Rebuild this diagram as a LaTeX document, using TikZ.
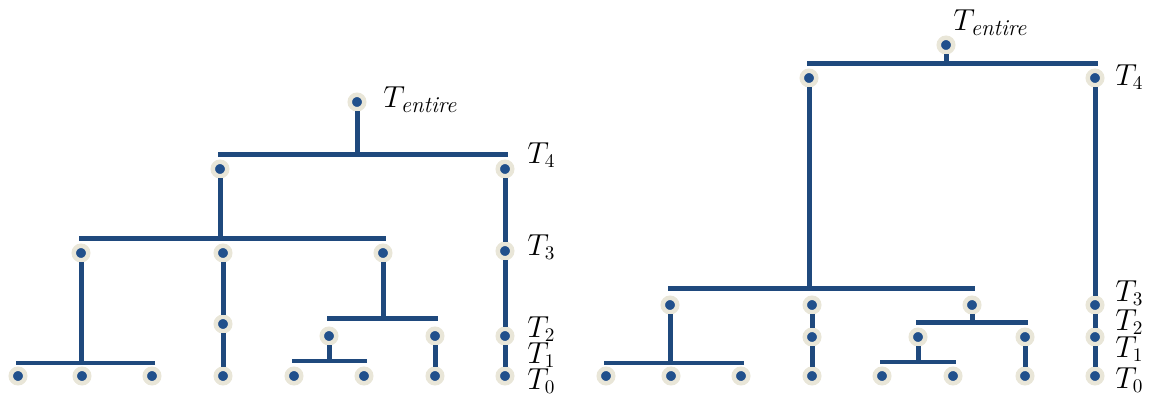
\documentclass[tikz,border=0pt]{standalone}
\usepackage{tikz}
\usetikzlibrary{calc,positioning}
\definecolor{treeblue}{HTML}{1F497D}
\definecolor{dotblue}{HTML}{21508C}
\definecolor{halo}{HTML}{E9E6D8}
\newcommand{\entiretext}{\mbox{\fontsize{13}{14}\selectfont\itshape entire}}
\tikzset{
  knot/.style={circle,fill=dotblue,draw=halo,line width=0.09cm,minimum size=0.29cm,inner sep=0pt},
  branch/.style={treeblue,line width=0.1cm},
  bar/.style={branch,line cap=rect},
  level/.style={anchor=west,inner sep=0pt,font=\fontsize{16}{19}\selectfont}
}

\begin{document}
\begin{tikzpicture}[x=0.02cm,y=-0.02cm]
\useasboundingbox (0,0) rectangle (1149,398);

% left tree
\node[knot] (L-r) at (357,102) {};
\node[knot] (L-41) at (220,169) {};
\node[knot] (L-42) at (505,169) {};
\node[knot] (L-31) at (81,253) {};
\node[knot] (L-32) at (223,253) {};
\node[knot] (L-33) at (383,253) {};
\node[knot] (L-34) at (505,251) {};
\node[knot] (L-22) at (223,324) {};
\node[knot] (L-23) at (329,336) {};
\node[knot] (L-24) at (435,336) {};
\node[knot] (L-25) at (505,336) {};
\node[knot] (L-01) at (18,376) {};
\node[knot] (L-02) at (82,376) {};
\node[knot] (L-03) at (152,376) {};
\node[knot] (L-04) at (223,376) {};
\node[knot] (L-05) at (294,376) {};
\node[knot] (L-06) at (364,376) {};
\node[knot] (L-07) at (435,376) {};
\node[knot] (L-08) at (505,376) {};
\coordinate (L-b4) at (0,155);
\coordinate (L-b3) at (0,239);
\coordinate (L-b2) at (0,319);
\coordinate (L-b1) at (0,363);
\coordinate (L-b0) at (0,361);
\draw[branch] (L-r) -- (L-r |- L-b4);
\draw[bar] (L-41 |- L-b4) -- (L-42 |- L-b4);
\draw[branch] (L-41) -- (L-41 |- L-b3);
\draw[bar] (L-31 |- L-b3) -- (L-33 |- L-b3);
\draw[branch] (L-42) -- (L-34);
\draw[branch] (L-34) -- (L-25);
\draw[branch] (L-25) -- (L-08);
\draw[branch] (L-31) -- (L-31 |- L-b1);
\draw[bar] (L-01 |- L-b1) -- (L-03 |- L-b1);
\draw[branch] (L-32) -- (L-22);
\draw[branch] (L-22) -- (L-04);
\draw[branch] (L-33) -- (L-33 |- L-b2);
\draw[bar] (L-23 |- L-b2) -- (L-24 |- L-b2);
\draw[branch] (L-23) -- (L-23 |- L-b0);
\draw[bar] (L-05 |- L-b0) -- (L-06 |- L-b0);
\draw[branch] (L-24) -- (L-07);
\node[level] (L-te) at (383,100) {$T_{\entiretext}$};
\node[level] (L-t4) at (527,155) {$T_4$};
\node[level] (L-t3) at (527,247) {$T_3$};
\node[level] (L-t2) at (527,329) {$T_2$};
\node[level] (L-t1) at (527,355) {$T_1$};
\node[level] (L-t0) at (527,381) {$T_0$};

% right tree
\node[knot] (R-r) at (946,45) {};
\node[knot] (R-41) at (809,78) {};
\node[knot] (R-42) at (1095,78) {};
\node[knot] (R-31) at (670,305) {};
\node[knot] (R-32) at (812,305) {};
\node[knot] (R-33) at (972,305) {};
\node[knot] (R-34) at (1095,305) {};
\node[knot] (R-22) at (812,337) {};
\node[knot] (R-23) at (918,337) {};
\node[knot] (R-24) at (1025,337) {};
\node[knot] (R-25) at (1095,337) {};
\node[knot] (R-01) at (606,376) {};
\node[knot] (R-02) at (671,376) {};
\node[knot] (R-03) at (741,376) {};
\node[knot] (R-04) at (812,376) {};
\node[knot] (R-05) at (882,376) {};
\node[knot] (R-06) at (953,376) {};
\node[knot] (R-07) at (1025,376) {};
\node[knot] (R-08) at (1095,376) {};
\coordinate (R-b4) at (0,64);
\coordinate (R-b3) at (0,289);
\coordinate (R-b2) at (0,323);
\coordinate (R-b1) at (0,363);
\coordinate (R-b0) at (0,362);
\draw[branch] (R-r) -- (R-r |- R-b4);
\draw[bar] (R-41 |- R-b4) -- (R-42 |- R-b4);
\draw[branch] (R-41) -- (R-41 |- R-b3);
\draw[bar] (R-31 |- R-b3) -- (R-33 |- R-b3);
\draw[branch] (R-42) -- (R-34);
\draw[branch] (R-34) -- (R-25);
\draw[branch] (R-25) -- (R-08);
\draw[branch] (R-31) -- (R-31 |- R-b1);
\draw[bar] (R-01 |- R-b1) -- (R-03 |- R-b1);
\draw[branch] (R-32) -- (R-22);
\draw[branch] (R-22) -- (R-04);
\draw[branch] (R-33) -- (R-33 |- R-b2);
\draw[bar] (R-23 |- R-b2) -- (R-24 |- R-b2);
\draw[branch] (R-23) -- (R-23 |- R-b0);
\draw[bar] (R-05 |- R-b0) -- (R-06 |- R-b0);
\draw[branch] (R-24) -- (R-07);
\node[level] (R-te) at (953,23) {$T_{\entiretext}$};
\node[level] (R-t4) at (1115,77) {$T_4$};
\node[level] (R-t3) at (1115,293) {$T_3$};
\node[level] (R-t2) at (1115,322) {$T_2$};
\node[level] (R-t1) at (1115,349) {$T_1$};
\node[level] (R-t0) at (1115,380) {$T_0$};
\end{tikzpicture}
\end{document}
